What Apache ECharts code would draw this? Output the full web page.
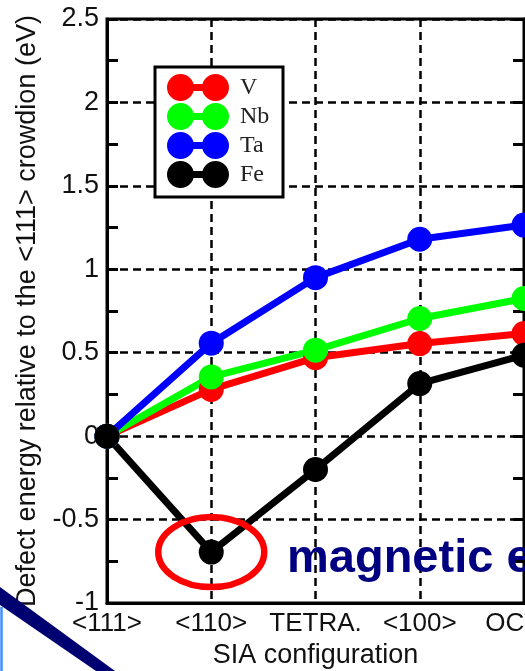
<!DOCTYPE html>
<html>
<head>
<meta charset="utf-8">
<script src="https://cdn.jsdelivr.net/npm/echarts@6/dist/echarts.min.js"></script>
<style>
  html, body { margin: 0; padding: 0; background: #fff; }
  #chart { width: 525px; height: 671px; }
</style>
</head>
<body>
<div id="chart"></div>
<script>
// SIA configurations along the x axis
const categories = ['<111>', '<110>', 'TETRA.', '<100>', 'OCTA.'];

// Defect energies (eV) relative to the <111> crowdion
const V  = [0, 0.28, 0.47, 0.555, 0.615];
const Nb = [0, 0.355, 0.515, 0.705, 0.825];
const Ta = [0, 0.557, 0.95, 1.18, 1.265];
const Fe = [0, -0.695, -0.2, 0.315, 0.485];

const yTicks = { min: -1, max: 2.5, step: 0.5 };

const FONT = 'Liberation Sans, Arial, Helvetica, sans-serif';
const SERIF = 'Liberation Serif, Times New Roman, serif';

// legend glyph: two dots joined by a bar
const legendIcon = 'path://M0,13.5 A13.5,13.5 0 1,1 27,13.5 A13.5,13.5 0 1,1 0,13.5 Z ' +
  'M35,13.5 A13.5,13.5 0 1,1 62,13.5 A13.5,13.5 0 1,1 35,13.5 Z ' +
  'M13.5,10 L48.5,10 L48.5,17 L13.5,17 Z';

const chart = echarts.init(document.getElementById('chart'), null, { renderer: 'canvas' });

function lineSeries(name, data, color) {
  return {
    name: name,
    type: 'line',
    data: data,
    symbol: 'circle',
    symbolSize: 25,
    showAllSymbol: true,
    clip: false,
    itemStyle: { color: color },
    lineStyle: { color: color, width: 7 },
    emphasis: { disabled: true },
    animation: false
  };
}

const axisLineStyle = { color: '#000', width: 3 };

chart.setOption({
  animation: false,
  backgroundColor: '#fff',
  grid: {
    left: 107, right: 1, top: 19, bottom: 68,
    outerBoundsMode: 'none',
    containLabel: false,
    show: true, borderColor: '#000', borderWidth: 3, backgroundColor: 'transparent'
  },
  legend: {
    data: ['V', 'Nb', 'Ta', 'Fe'],
    orient: 'vertical',
    left: 167, top: 74,
    padding: 0,
    itemWidth: 62, itemHeight: 27, itemGap: 2,
    icon: legendIcon,
    selectedMode: false,
    textStyle: { fontFamily: SERIF, fontSize: 24, color: '#222', padding: [0, 0, 0, 6] },
    z: 6
  },
  xAxis: {
    type: 'category',
    data: categories,
    boundaryGap: false,
    name: 'SIA configuration',
    nameLocation: 'middle',
    nameGap: 36,
    nameTextStyle: { fontFamily: FONT, fontSize: 27, color: '#111' },
    axisLine: { onZero: false, lineStyle: axisLineStyle },
    axisTick: { show: false },
    axisLabel: { interval: 0, fontFamily: FONT, fontSize: 26, color: '#111', margin: 8 },
    splitLine: { show: true, interval: 0, lineStyle: { color: '#000', width: 2.5, type: [8, 5] } }
  },
  yAxis: [{
    type: 'value',
    min: yTicks.min, max: yTicks.max, interval: yTicks.step,
    name: 'Defect energy relative to the <111> crowdion (eV)',
    nameLocation: 'middle',
    nameGap: 66,
    nameTextStyle: { fontFamily: FONT, fontSize: 27, color: '#111' },
    axisLine: { show: true, onZero: false, lineStyle: axisLineStyle },
    axisTick: { show: true, inside: true, length: 11, lineStyle: { color: '#000', width: 3 } },
    minorTick: { show: true, splitNumber: 2, length: 11, lineStyle: { color: '#000', width: 3 } },
    axisLabel: { fontFamily: FONT, fontSize: 27, color: '#111', margin: 8 },
    splitLine: { show: true, lineStyle: { color: '#000', width: 2.5, type: [8, 5] } }
  }, {
    type: 'value',
    position: 'right',
    min: yTicks.min, max: yTicks.max, interval: yTicks.step,
    axisLine: { show: true, onZero: false, lineStyle: axisLineStyle },
    axisTick: { show: true, inside: true, length: 11, lineStyle: { color: '#000', width: 3 } },
    minorTick: { show: true, splitNumber: 2, length: 11, lineStyle: { color: '#000', width: 3 } },
    axisLabel: { show: false },
    splitLine: { show: false }
  }],
  series: [
    lineSeries('V', V, '#ff0000'),
    lineSeries('Nb', Nb, '#00ff00'),
    lineSeries('Ta', Ta, '#0000ff'),
    lineSeries('Fe', Fe, '#000000')
  ]
});

// annotations: legend frame, highlight ring around the Fe <110> point, caption, corner mark
const ring = chart.convertToPixel({ seriesIndex: 3 }, [1, Fe[1]]);

chart.setOption({
  graphic: [
    {
      type: 'rect', z: 5,
      shape: { x: 155, y: 67, width: 128, height: 130 },
      style: { fill: '#fff', stroke: '#000', lineWidth: 3 }
    },
    {
      type: 'ellipse', z: 7,
      shape: { cx: ring[0], cy: ring[1], rx: 53, ry: 35 },
      style: { fill: null, stroke: '#ff0000', lineWidth: 6.5 }
    },
    {
      type: 'text', z: 7,
      x: 287, y: 536,
      style: {
        text: 'magnetic effect',
        font: 'bold 47px ' + FONT,
        fill: '#000080',
        verticalAlign: 'top'
      }
    },
    {
      type: 'polygon', z: 7,
      shape: { points: [[0, 587], [115, 671], [96, 671], [0, 605]] },
      style: { fill: '#000070' }
    },
    {
      type: 'line', z: 7,
      shape: { x1: 1.5, y1: 607, x2: 1.5, y2: 671 },
      style: { stroke: '#3f8fff', lineWidth: 2.5 }
    }
  ]
});
</script>
</body>
</html>
